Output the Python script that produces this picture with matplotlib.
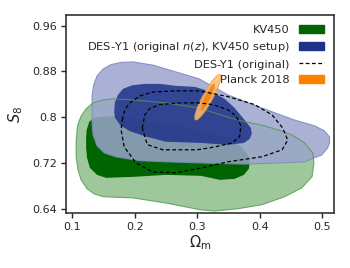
import matplotlib
matplotlib.use('Agg')
import matplotlib.pyplot as plt
from matplotlib.patches import Polygon, Ellipse, Patch
from matplotlib.lines import Line2D

# contour outlines (Omega_m, S8)
kv_outer_om = [0.1075, 0.109, 0.114, 0.122, 0.133, 0.149, 0.165, 0.197, 0.250, 0.303, 0.349, 0.376, 0.404, 0.429, 0.452,
               0.472, 0.485, 0.487, 0.484, 0.4675, 0.440, 0.4035, 0.365, 0.328, 0.306, 0.250, 0.197, 0.149, 0.135,
               0.1235, 0.114, 0.109, 0.106, 0.106]
kv_outer_s8 = [0.778, 0.788, 0.802, 0.8145, 0.825, 0.830, 0.832, 0.830, 0.825, 0.816, 0.800, 0.792, 0.786, 0.778, 0.769,
               0.755, 0.738, 0.720, 0.696, 0.6765, 0.661, 0.647, 0.640, 0.636, 0.638, 0.650, 0.659, 0.661, 0.666,
               0.675, 0.6905, 0.708, 0.731, 0.755]

kv_inner_om = [0.122, 0.123, 0.127, 0.135, 0.149, 0.170, 0.192, 0.240, 0.2995, 0.344, 0.368, 0.3795, 0.3843, 0.3827,
               0.3747, 0.360, 0.336, 0.306, 0.250, 0.197, 0.154, 0.1395, 0.128, 0.1235, 0.122]
kv_inner_s8 = [0.764, 0.778, 0.792, 0.799, 0.801, 0.802, 0.799, 0.790, 0.778, 0.764, 0.750, 0.7376, 0.7237, 0.7097,
               0.6992, 0.6922, 0.6905, 0.6975, 0.6992, 0.6957, 0.694, 0.6992, 0.7114, 0.7289, 0.7464]

des_outer_om = [0.1315, 0.1315, 0.134, 0.1395, 0.149, 0.162, 0.178, 0.197, 0.229, 0.266, 0.303, 0.349, 0.4035, 0.456,
                0.488, 0.504, 0.512, 0.512, 0.509, 0.4995, 0.472, 0.429, 0.376, 0.306, 0.250, 0.207, 0.170, 0.151,
                0.1395, 0.133, 0.1315]
des_outer_s8 = [0.8215, 0.837, 0.856, 0.872, 0.884, 0.892, 0.8957, 0.8966, 0.891, 0.879, 0.867, 0.839, 0.816, 0.795,
                0.785, 0.776, 0.7656, 0.755, 0.7464, 0.734, 0.722, 0.720, 0.718, 0.720, 0.722, 0.724, 0.7306, 0.7376,
                0.750, 0.769, 0.792]

des_inner_om = [0.167, 0.168, 0.173, 0.181, 0.1955, 0.216, 0.240, 0.266, 0.296, 0.3235, 0.344, 0.360, 0.376, 0.386,
                0.3875, 0.384, 0.3747, 0.349, 0.306, 0.250, 0.218, 0.191, 0.1763, 0.1683]
des_inner_s8 = [0.809, 0.825, 0.839, 0.8495, 0.8556, 0.8582, 0.8582, 0.8547, 0.853, 0.844, 0.832, 0.816, 0.795, 0.781,
                0.771, 0.762, 0.755, 0.7516, 0.755, 0.757, 0.766, 0.776, 0.7865, 0.799]

orig_outer_om = [0.180, 0.184, 0.192, 0.208, 0.229, 0.266, 0.303, 0.349, 0.392, 0.420, 0.437, 0.445, 0.436, 0.404, 0.349,
                 0.306, 0.266, 0.229, 0.202, 0.183, 0.178]
orig_outer_s8 = [0.795, 0.813, 0.825, 0.837, 0.844, 0.846, 0.846, 0.836, 0.822, 0.804, 0.781, 0.760, 0.743, 0.731, 0.722,
                 0.711, 0.703, 0.704, 0.720, 0.748, 0.778]

orig_inner_om = [0.212, 0.216, 0.224, 0.240, 0.272, 0.303, 0.325, 0.349, 0.362, 0.370, 0.368, 0.356, 0.328, 0.300, 0.245,
                 0.220]
orig_inner_s8 = [0.781, 0.804, 0.815, 0.822, 0.825, 0.825, 0.822, 0.813, 0.802, 0.785, 0.766, 0.755, 0.748, 0.743, 0.743,
                 0.752]

# Planck 2018: centre, length, width, angle of the 1 and 2 sigma ellipses
planck_centre = (0.317, 0.835)
planck_outer = (0.088, 0.016, 63.6)
planck_inner = (0.052, 0.0085, 66.0)

labels = ['KV450', 'DES-Y1 (original $n(z)$, KV450 setup)', 'DES-Y1 (original)', 'Planck 2018']
xticks = [0.1, 0.2, 0.3, 0.4, 0.5]
yticks = [0.64, 0.72, 0.8, 0.88, 0.96]
ytick_labels = ['0.64', '0.72', '0.8', '0.88', '0.96']

green = '#006400'
green_light = '#9ec89c'
navy = '#1e328a'
navy_light = '#9ba4cd'
orange = '#ff8000'
orange_light = '#fbbd78'
dark = '#262626'

plt.rcParams['font.family'] = 'DejaVu Sans'
plt.rcParams['mathtext.fontset'] = 'dejavusans'

fig = plt.figure(figsize=(3.5, 2.68), dpi=100)
ax = fig.add_axes([0.189, 0.204, 0.765, 0.741])


def poly(om, s8, **kw):
    p = Polygon(list(zip(om, s8)), closed=True, joinstyle='round', **kw)
    ax.add_patch(p)
    return p


# KV450 first, opaque
poly(kv_outer_om, kv_outer_s8, facecolor=green_light, edgecolor='none')
poly(kv_inner_om, kv_inner_s8, facecolor=green, edgecolor='none')
# DES-Y1 on top with alpha
poly(des_outer_om, des_outer_s8, facecolor=navy_light, edgecolor='#7e88c0', lw=0.8, alpha=0.85)
poly(des_inner_om, des_inner_s8, facecolor=navy, edgecolor='none', alpha=0.85)
# KV450 outer edge
poly(kv_outer_om, kv_outer_s8, facecolor='none', edgecolor='#4f9a4f', lw=0.8, alpha=0.8)

for om, s8 in ((orig_outer_om, orig_outer_s8), (orig_inner_om, orig_inner_s8)):
    ax.plot(om + om[:1], s8 + s8[:1], color='k', ls=(0, (3, 2)), lw=0.9)

ax.add_patch(Ellipse(planck_centre, planck_outer[0], planck_outer[1], angle=planck_outer[2],
                     facecolor=orange_light, edgecolor='#f9a040', lw=0.8, alpha=0.85))
ax.add_patch(Ellipse(planck_centre, planck_inner[0], planck_inner[1], angle=planck_inner[2],
                     facecolor=orange, edgecolor='none', alpha=0.85))

ax.set_xlim(0.09, 0.519)
ax.set_ylim(0.632, 0.979)
ax.set_xticks(xticks)
ax.set_xticklabels([str(t) for t in xticks])
ax.set_yticks(yticks)
ax.set_yticklabels(ytick_labels)
ax.tick_params(direction='out', length=3.5, width=1, colors=dark, labelsize=8, pad=3)
for s in ax.spines.values():
    s.set_color('#333333')
    s.set_linewidth(1.2)

ax.set_xlabel(r'$\Omega_{\rm m}$', fontsize=10.5, color=dark, labelpad=1)
ax.set_ylabel(r'$S_8$', fontsize=10.5, color=dark, labelpad=5)

handles = [Patch(facecolor=green, edgecolor=green),
           Patch(facecolor=navy, edgecolor=navy),
           Line2D([0], [0], color='k', ls=(0, (3, 2)), lw=0.9),
           Patch(facecolor=orange, edgecolor=orange)]
leg = ax.legend(handles, labels, loc='upper right', frameon=False, markerfirst=False, fontsize=8.2,
                handlelength=2.2, handleheight=0.75, labelspacing=0.45)
for t in leg.get_texts():
    t.set_color(dark)

fig.savefig('out.png', dpi=100)
